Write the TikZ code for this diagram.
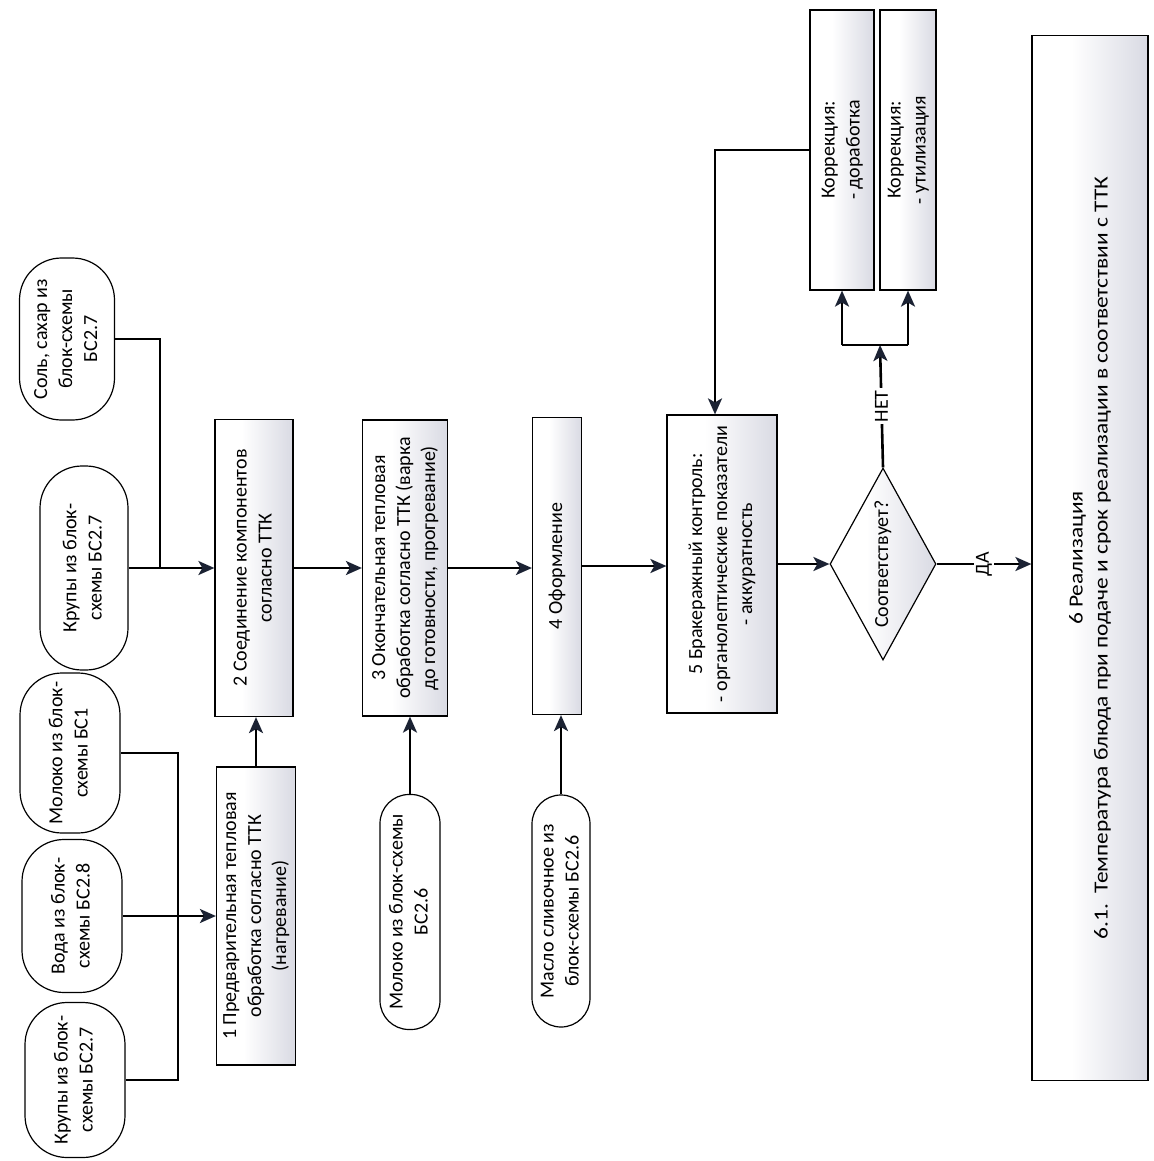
\documentclass[tikz,border=0pt]{standalone}
\usepackage{fontspec}
\setmainfont{Carlito}
\usetikzlibrary{arrows.meta,shapes.geometric}

\definecolor{shadecol}{HTML}{D9DAE3}
\definecolor{tipcol}{HTML}{1B2233}
% white on the left, fading to grey-lavender on the right
\pgfdeclarehorizontalshading{boxshade}{100bp}{color(0bp)=(white); color(42bp)=(white); color(75bp)=(shadecol); color(100bp)=(shadecol)}

\newcommand\rottext[1]{\rotatebox{90}{\begin{tabular}{@{}c@{}}#1\end{tabular}}}
\newcommand\flattext[1]{\makebox[0pt][c]{\smash{\raisebox{-0.5\height}{\rotatebox{90}{#1}}}}}
\newcommand\longline[1]{\scalebox{1.17}[1]{#1}}

\tikzset{
  every node/.style={font=\fontsize{20}{25}\selectfont},
  stepbox/.style={draw=black, line width=1.2pt, shade, shading=boxshade, inner sep=0pt},
  pill/.style={draw=black, line width=1.2pt, fill=white, inner sep=0pt, rounded corners=#1},
  pill/.default=42pt,
  decision/.style={shape=diamond, draw=black, line width=1.2pt, shade, shading=boxshade, inner sep=0pt},
  conn/.style={line width=2.6pt, black},
  arr/.style={conn, -{Stealth[length=16pt,width=14pt,inset=4pt,color=tipcol]}},
  lbl/.style={fill=white, inner sep=2pt},
}

\begin{document}
\begin{tikzpicture}[x=1pt,y=-1pt]
\useasboundingbox (0,0) rectangle (1153,1161);

% input pills
\node[pill, minimum width=100pt, minimum height=155pt] (p1) at (75,1080) {\rottext{Крупы из блок-\\схемы БС2.7}};
\node[pill, minimum width=100pt, minimum height=153pt] (p2) at (72,916) {\rottext{Вода из блок-\\схемы БС2.8}};
\node[pill, minimum width=100pt, minimum height=160pt] (p3) at (70,753) {\rottext{Молоко из блок-\\схемы БС1}};
\node[pill, minimum width=88pt, minimum height=204pt] (p4) at (84,568) {\rottext{Крупы из блок-\\схемы БС2.7}};
\node[pill, minimum width=95pt, minimum height=162pt] (p5) at (67,339) {\rottext{Соль, сахар из\\блок-схемы\\БС2.7}};
\node[pill=29pt, minimum width=60pt, minimum height=235pt] (p6) at (410,912) {\rottext{Молоко из блок-схемы\\БС2.6}};
\node[pill=29pt, minimum width=58pt, minimum height=232pt] (p7) at (561,911) {\rottext{Масло сливочное из\\блок-схемы БС2.6}};

% process steps
\node[stepbox, minimum width=79pt, minimum height=298pt] (b1) at (256,916) {\rottext{1 Предварительная тепловая\\обработка согласно ТТК\\(нагревание)}};
\node[stepbox, minimum width=78pt, minimum height=297pt] (b2) at (254,568) {\rottext{2 Соединение компонентов\\согласно ТТК}};
\node[stepbox, minimum width=85pt, minimum height=296pt] (b3) at (405,568) {\rottext{3 Окончательная тепловая\\обработка согласно ТТК (варка\\до готовности, прогревание)}};
\node[stepbox, minimum width=49pt, minimum height=297pt] (b4) at (557,566) {\rottext{4 Оформление}};
\node[stepbox, minimum width=110pt, minimum height=298pt] (b5) at (722,564) {\rottext{5 Бракеражный контроль:\\- органолептические показатели\\- аккуратность}};
\node[decision, minimum width=106pt, minimum height=192pt] (d) at (883,564) {\flattext{Соответствует?}};
\node[stepbox, minimum width=64pt, minimum height=280pt] (kA) at (842,150) {\rottext{Коррекция:\\- доработка}};
\node[stepbox, minimum width=56pt, minimum height=280pt] (kB) at (908,150) {\rottext{Коррекция:\\- утилизация}};
\node[stepbox, minimum width=116pt, minimum height=1045pt] (b6) at (1090,558) {\rottext{\longline{6 Реализация}\\\longline{6.1.\ \ Температура блюда при подаче и срок реализации в соответствии с ТТК}}};

% junction points
\coordinate (bus1) at (178,916);
\coordinate (j2) at (160,568);
\coordinate (nj) at (880,345);

% connectors
\draw[conn] (p1.east) -| (bus1) |- (p3.east);
\draw[arr] (p2.east) -- (b1.west |- p2.east);
\draw[arr] (b1.north) -- (b1.north |- b2.south);
\draw[arr] (p4.east) -- (b2.west |- p4.east);
\draw[conn] (p5.east) -| (j2);
\draw[arr] (b2.east) -- (b3.west |- b2.east);
\draw[arr] (p6.north) -- (p6.north |- b3.south);
\draw[arr] (b3.east) -- (b4.west |- b3.east);
\draw[arr] (p7.north) -- (p7.north |- b4.south);
\draw[arr] (b4.east) -- (b5.west |- b4.east);
\draw[arr] (b5.east) -- (d.west);
\draw[arr] (d.east) -- node[lbl] {\rotatebox{90}{ДА}} (d.east -| b6.west);
\draw[arr] (d.north) -- node[lbl] {\rotatebox{90}{НЕТ}} (nj);
\draw[conn] (nj -| kA.south) -- (nj -| kB.south);
\draw[arr] (nj -| kA.south) -- (kA.south);
\draw[arr] (nj -| kB.south) -- (kB.south);
\draw[arr] (kA.west) -| ([xshift=-7pt]b5.north);
\end{tikzpicture}
\end{document}
